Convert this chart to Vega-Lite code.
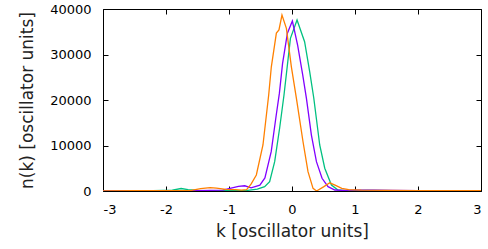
{
  "$schema": "https://vega.github.io/schema/vega-lite/v6.json",
  "width": 378,
  "height": 182,
  "autosize": "none",
  "padding": {"left": 103, "top": 9, "right": 7, "bottom": 58},
  "config": {
    "view": {"stroke": "black", "strokeWidth": 1},
    "axis": {"grid": false, "domainColor": "black", "tickColor": "black", "labelColor": "black", "titleColor": "#222", "labelFont": "DejaVu Sans", "titleFont": "DejaVu Sans", "labelFontSize": 13, "titleFontSize": 17, "titleFontWeight": "normal"}
  },
  "datasets": {
    "d": [
      {"s": "g", "k": -3, "n": 0}, {"s": "g", "k": -2.2, "n": 50}, {"s": "g", "k": -1.9, "n": 200}, {"s": "g", "k": -1.76, "n": 550}, {"s": "g", "k": -1.65, "n": 300}, {"s": "g", "k": -1.5, "n": 150}, {"s": "g", "k": -1.2, "n": 100}, {"s": "g", "k": -0.9, "n": 100}, {"s": "g", "k": -0.7, "n": 150}, {"s": "g", "k": -0.55, "n": 400}, {"s": "g", "k": -0.434, "n": 945}, {"s": "g", "k": -0.355, "n": 2040}, {"s": "g", "k": -0.275, "n": 6440}, {"s": "g", "k": -0.196, "n": 13850}, {"s": "g", "k": -0.127, "n": 21100}, {"s": "g", "k": -0.025, "n": 33560}, {"s": "g", "k": 0.08, "n": 37580}, {"s": "g", "k": 0.2, "n": 32800}, {"s": "g", "k": 0.28, "n": 26300}, {"s": "g", "k": 0.345, "n": 20500}, {"s": "g", "k": 0.44, "n": 10110}, {"s": "g", "k": 0.52, "n": 5000}, {"s": "g", "k": 0.626, "n": 1320}, {"s": "g", "k": 0.73, "n": 220}, {"s": "g", "k": 0.85, "n": 100}, {"s": "g", "k": 1.2, "n": 150}, {"s": "g", "k": 1.6, "n": 100}, {"s": "g", "k": 2.0, "n": 50}, {"s": "g", "k": 3, "n": 0},
      {"s": "p", "k": -3, "n": 0}, {"s": "p", "k": -2, "n": 50}, {"s": "p", "k": -1.5, "n": 100}, {"s": "p", "k": -1.1, "n": 200}, {"s": "p", "k": -0.95, "n": 700}, {"s": "p", "k": -0.85, "n": 1000}, {"s": "p", "k": -0.75, "n": 1150}, {"s": "p", "k": -0.65, "n": 700}, {"s": "p", "k": -0.51, "n": 1300}, {"s": "p", "k": -0.43, "n": 2860}, {"s": "p", "k": -0.33, "n": 8640}, {"s": "p", "k": -0.25, "n": 16700}, {"s": "p", "k": -0.2, "n": 21500}, {"s": "p", "k": -0.15, "n": 28000}, {"s": "p", "k": -0.073, "n": 34660}, {"s": "p", "k": 0.006, "n": 37360}, {"s": "p", "k": 0.09, "n": 32000}, {"s": "p", "k": 0.17, "n": 25500}, {"s": "p", "k": 0.229, "n": 20370}, {"s": "p", "k": 0.308, "n": 12300}, {"s": "p", "k": 0.388, "n": 6440}, {"s": "p", "k": 0.477, "n": 2790}, {"s": "p", "k": 0.572, "n": 945}, {"s": "p", "k": 0.68, "n": 220}, {"s": "p", "k": 0.8, "n": 150}, {"s": "p", "k": 1.0, "n": 200}, {"s": "p", "k": 1.3, "n": 200}, {"s": "p", "k": 1.6, "n": 150}, {"s": "p", "k": 2.0, "n": 100}, {"s": "p", "k": 2.5, "n": 50}, {"s": "p", "k": 3, "n": 50},
      {"s": "o", "k": -3, "n": 0}, {"s": "o", "k": -2.5, "n": 50}, {"s": "o", "k": -2.0, "n": 100}, {"s": "o", "k": -1.6, "n": 150}, {"s": "o", "k": -1.45, "n": 500}, {"s": "o", "k": -1.3, "n": 750}, {"s": "o", "k": -1.2, "n": 650}, {"s": "o", "k": -1.05, "n": 350}, {"s": "o", "k": -0.9, "n": 300}, {"s": "o", "k": -0.8, "n": 200}, {"s": "o", "k": -0.72, "n": 300}, {"s": "o", "k": -0.65, "n": 1500}, {"s": "o", "k": -0.566, "n": 3520}, {"s": "o", "k": -0.461, "n": 10110}, {"s": "o", "k": -0.37, "n": 21100}, {"s": "o", "k": -0.328, "n": 27300}, {"s": "o", "k": -0.248, "n": 34700}, {"s": "o", "k": -0.207, "n": 35400}, {"s": "o", "k": -0.159, "n": 38680}, {"s": "o", "k": -0.089, "n": 35760}, {"s": "o", "k": -0.01, "n": 27300}, {"s": "o", "k": 0.07, "n": 20370}, {"s": "o", "k": 0.175, "n": 10830}, {"s": "o", "k": 0.254, "n": 4240}, {"s": "o", "k": 0.334, "n": 590}, {"s": "o", "k": 0.39, "n": 0}, {"s": "o", "k": 0.5, "n": 900}, {"s": "o", "k": 0.6, "n": 1800}, {"s": "o", "k": 0.7, "n": 1200}, {"s": "o", "k": 0.79, "n": 600}, {"s": "o", "k": 0.9, "n": 300}, {"s": "o", "k": 1.1, "n": 200}, {"s": "o", "k": 1.5, "n": 150}, {"s": "o", "k": 2.0, "n": 100}, {"s": "o", "k": 2.5, "n": 50}, {"s": "o", "k": 3, "n": 50}
    ]
  },
  "data": {"name": "d"},
  "resolve": {"axis": {"x": "independent", "y": "independent"}},
  "layer": [
    {
      "mark": {"type": "line", "strokeWidth": 1.3, "clip": true},
      "encoding": {
        "x": {"field": "k", "type": "quantitative", "scale": {"domain": [-3, 3], "nice": false}, "axis": {"title": "k [oscillator units]", "values": [-3, -2, -1, 0, 1, 2, 3], "labelExpr": "'' + datum.value", "tickSize": -5, "labelPadding": 17, "titlePadding": 7, "domain": false}},
        "y": {"field": "n", "type": "quantitative", "scale": {"domain": [0, 40000], "nice": false}, "axis": {"title": "n(k) [oscillator units]", "values": [0, 10000, 20000, 30000, 40000], "labelExpr": "'' + datum.value", "tickSize": -5, "labelPadding": 17, "titlePadding": 13, "domain": false}},
        "color": {"field": "s", "type": "nominal", "scale": {"domain": ["g", "p", "o"], "range": ["#00c080", "#8000ff", "#ff8000"]}, "legend": null},
        "order": {"field": "k", "type": "quantitative"}
      }
    },
    {
      "mark": {"type": "point", "opacity": 0},
      "encoding": {
        "x": {"field": "k", "type": "quantitative", "scale": {"domain": [-3, 3], "nice": false}, "axis": {"orient": "top", "title": null, "labels": false, "values": [-3, -2, -1, 0, 1, 2, 3], "tickSize": -5, "domain": false}},
        "y": {"field": "n", "type": "quantitative", "scale": {"domain": [0, 40000], "nice": false}, "axis": {"orient": "right", "title": null, "labels": false, "values": [0, 10000, 20000, 30000, 40000], "tickSize": -5, "domain": false}}
      }
    }
  ]
}
